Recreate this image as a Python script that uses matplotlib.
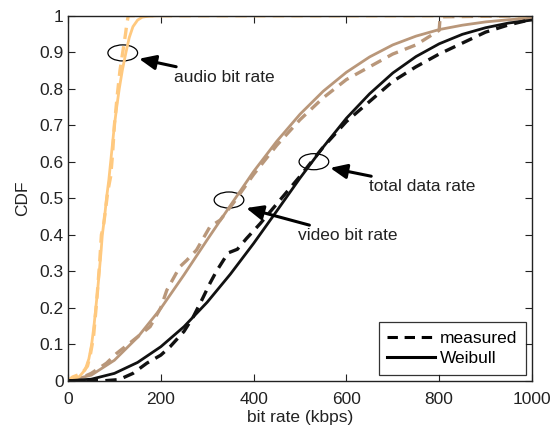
import matplotlib
matplotlib.use("Agg")
import matplotlib.pyplot as plt
from matplotlib.patches import Ellipse
from matplotlib.lines import Line2D

plt.rcParams['font.family'] = ['Liberation Sans', 'DejaVu Sans']

# CDF curves, bit rate in kbps
audio_fit_x = [0, 11, 25, 37, 45, 51, 56, 60, 64, 67.5, 71, 74, 79, 83, 88, 92, 96, 100, 105, 110.5, 117, 125, 132, 140, 150, 160, 175, 200, 1000]
audio_fit_y = [0, 0.002, 0.012, 0.03, 0.06, 0.1, 0.15, 0.2, 0.25, 0.3, 0.35, 0.4, 0.45, 0.5, 0.55, 0.6, 0.65, 0.7, 0.75, 0.8, 0.85, 0.9, 0.94, 0.97, 0.988, 0.996, 0.999, 1.0, 1.0]
audio_meas_x = [0, 10, 30, 42, 48, 55, 62, 68, 72, 76, 80, 86, 92, 96, 100, 106, 112, 118, 124, 127, 130, 1000]
audio_meas_y = [0, 0.01, 0.02, 0.04, 0.07, 0.12, 0.22, 0.32, 0.40, 0.42, 0.46, 0.52, 0.56, 0.62, 0.70, 0.78, 0.85, 0.90, 0.95, 0.98, 1.0, 1.0]

video_fit_x = [0, 50, 100, 150, 200, 250, 300, 350, 400, 450, 500, 550, 600, 650, 700, 750, 800, 850, 900, 950, 1000]
video_fit_y = [0, 0.015, 0.056, 0.119, 0.198, 0.29, 0.386, 0.48, 0.573, 0.656, 0.73, 0.793, 0.845, 0.887, 0.92, 0.944, 0.962, 0.974, 0.983, 0.989, 0.993]
video_meas_x = [0, 20, 50, 83, 105, 140, 177, 200, 213, 241, 256, 277, 306, 328, 356, 400, 450, 500, 550, 600, 650, 700, 750, 800, 802, 1000]
video_meas_y = [0, 0.003, 0.02, 0.048, 0.075, 0.11, 0.148, 0.2, 0.248, 0.312, 0.33, 0.358, 0.422, 0.44, 0.486, 0.565, 0.645, 0.715, 0.775, 0.825, 0.86, 0.895, 0.92, 0.96, 0.997, 1.0]

total_fit_x = [0, 50, 100, 150, 200, 250, 300, 350, 400, 450, 500, 550, 600, 650, 700, 750, 800, 850, 900, 950, 1000]
total_fit_y = [0, 0.004, 0.02, 0.05, 0.093, 0.148, 0.215, 0.292, 0.376, 0.465, 0.555, 0.64, 0.719, 0.786, 0.843, 0.888, 0.923, 0.949, 0.967, 0.98, 0.988]
total_meas_x = [0, 80, 110, 140, 170, 200, 220, 250, 270, 290, 306, 320, 335, 345, 365, 385, 414, 457, 500, 550, 600, 650, 700, 750, 800, 850, 900, 950, 1000]
total_meas_y = [0, 0, 0.003, 0.02, 0.048, 0.07, 0.093, 0.135, 0.175, 0.225, 0.267, 0.30, 0.33, 0.35, 0.36, 0.39, 0.43, 0.495, 0.56, 0.64, 0.71, 0.765, 0.82, 0.86, 0.895, 0.925, 0.955, 0.975, 0.99]

x_ticks = [0, 200, 400, 600, 800, 1000]
y_ticks = [0, 0.1, 0.2, 0.3, 0.4, 0.5, 0.6, 0.7, 0.8, 0.9, 1]
y_tick_labels = ['0', '0.1', '0.2', '0.3', '0.4', '0.5', '0.6', '0.7', '0.8', '0.9', '1']

c_audio = '#FFC97F'
c_video = '#B9977A'
c_total = '#111111'
dash = (3.4, 2.2)

fig = plt.figure(figsize=(5.56, 4.30), dpi=100)
ax = fig.add_axes([0.1223, 0.1147, 0.8345, 0.8488])

for xs, ys, xm, ym, c in [
    (video_fit_x, video_fit_y, video_meas_x, video_meas_y, c_video),
    (audio_fit_x, audio_fit_y, audio_meas_x, audio_meas_y, c_audio),
    (total_fit_x, total_fit_y, total_meas_x, total_meas_y, c_total),
]:
    ax.plot(xm, ym, color=c, lw=2.4, dashes=dash, solid_capstyle='butt')
    ax.plot(xs, ys, color=c, lw=2.0)

# ellipses marking each curve group
for (cx, cy) in [(118, 0.898), (347, 0.495), (530, 0.6)]:
    ax.add_patch(Ellipse((cx, cy), 64, 0.044, fill=False, lw=0.9, ec='black'))

arrow = dict(arrowstyle='-|>,head_length=0.8,head_width=0.35', color='black', lw=2.2, shrinkA=0, shrinkB=0)
fs = 12.5
ax.annotate('audio bit rate', xy=(153, 0.882), xytext=(228, 0.832),
            fontsize=fs, va='center', ha='left', arrowprops=arrow, color='#222222')
ax.annotate('video bit rate', xy=(384, 0.473), xytext=(495, 0.398),
            fontsize=fs, va='center', ha='left', arrowprops=arrow, color='#222222')
ax.annotate('total data rate', xy=(565, 0.583), xytext=(648, 0.532),
            fontsize=fs, va='center', ha='left', arrowprops=arrow, color='#222222')

ax.set_xlim(0, 1000)
ax.set_ylim(0, 1)
ax.set_xticks(x_ticks)
ax.set_yticks(y_ticks)
ax.set_yticklabels(y_tick_labels)
ax.tick_params(direction='in', top=True, right=True, length=5, width=0.8,
               labelsize=fs, colors='#222222')
ax.tick_params(axis='x', pad=8)
ax.tick_params(axis='y', pad=3)
for s in ax.spines.values():
    s.set_linewidth(1.0)
    s.set_color('#222222')
ax.set_xlabel('bit rate (kbps)', fontsize=fs, color='#222222', labelpad=2.5)
ax.set_ylabel('CDF', fontsize=fs, color='#222222', labelpad=7)

handles = [Line2D([], [], color='black', lw=2.2, dashes=dash),
           Line2D([], [], color='black', lw=2.2)]
leg = ax.legend(handles, ['measured', 'Weibull'], loc='lower right', fontsize=fs,
                frameon=True, fancybox=False, edgecolor='black', handlelength=2.75,
                handletextpad=0.3, borderpad=0.5, labelspacing=0.3,
                borderaxespad=0.33)
leg.get_frame().set_linewidth(0.9)

fig.savefig('out.png', dpi=100)
